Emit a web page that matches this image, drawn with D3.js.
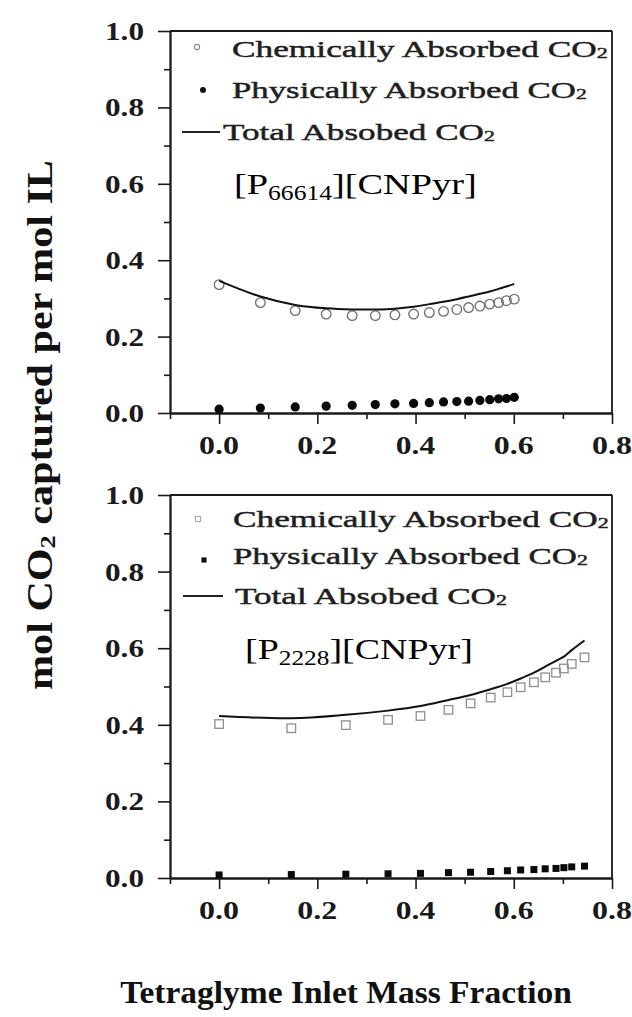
<!DOCTYPE html>
<html>
<head>
<meta charset="utf-8">
<script src="https://cdn.jsdelivr.net/npm/d3@7"></script>
<style>
  html, body { margin: 0; padding: 0; background: #fff; }
  svg { display: block; }
</style>
</head>
<body>
<script>
// ---- data: [P66614][CNPyr] ----
const topFraction = [0, 0.084, 0.155, 0.218, 0.271, 0.318, 0.358, 0.396, 0.428, 0.457, 0.484, 0.508, 0.531, 0.551, 0.569, 0.585, 0.601];
const topChemical = [0.336, 0.289, 0.268, 0.259, 0.255, 0.255, 0.257, 0.259, 0.263, 0.266, 0.271, 0.276, 0.280, 0.285, 0.289, 0.294, 0.298];
const topPhysical = [0.010, 0.013, 0.016, 0.018, 0.020, 0.022, 0.024, 0.025, 0.027, 0.029, 0.030, 0.031, 0.033, 0.035, 0.037, 0.038, 0.041];
const topTotal    = [0.346, 0.305, 0.283, 0.274, 0.271, 0.271, 0.273, 0.278, 0.285, 0.291, 0.298, 0.305, 0.312, 0.318, 0.325, 0.331, 0.338];

// ---- data: [P2228][CNPyr] ----
const botFraction = [0, 0.147, 0.258, 0.344, 0.410, 0.467, 0.512, 0.553, 0.587, 0.614, 0.641, 0.664, 0.686, 0.702, 0.718, 0.744];
const botChemical = [0.402, 0.391, 0.399, 0.413, 0.423, 0.439, 0.456, 0.471, 0.485, 0.498, 0.511, 0.524, 0.536, 0.547, 0.559, 0.576];
const botPhysical = [0.008, 0.009, 0.010, 0.011, 0.012, 0.014, 0.015, 0.017, 0.019, 0.021, 0.022, 0.024, 0.025, 0.027, 0.029, 0.031];
const botTotal    = [0.423, 0.417, 0.426, 0.437, 0.449, 0.465, 0.478, 0.493, 0.507, 0.521, 0.536, 0.552, 0.567, 0.578, 0.595, 0.620];

// ---- ticks and text ----
const xMajorTicks = [0, 0.2, 0.4, 0.6, 0.8];
const xMinorTicks = [-0.1, 0.1, 0.3, 0.5, 0.7];
const yMajorTicks = [0, 0.2, 0.4, 0.6, 0.8, 1.0];
const yMinorTicks = [0.1, 0.3, 0.5, 0.7, 0.9];
const legendLabels = ["Chemically Absorbed CO", "Physically Absorbed CO", "Total Absobed CO"];
const cationNames = ["66614", "2228"];
const xTitle = "Tetraglyme Inlet Mass Fraction";

const W = 632, H = 1017;
const SERIF = "'Liberation Serif', 'Times New Roman', serif";
const INK = "#1a1a1a";

const svg = d3.select("body").append("svg")
  .attr("width", W).attr("height", H)
  .attr("viewBox", `0 0 ${W} ${H}`);

const x = d3.scaleLinear().domain([-0.1, 0.8]).range([170, 612]);

// stretch a text element horizontally (in its own frame) about its anchor x
function fitWidth(sel, anchorX, target) {
  const w = sel.node().getBBox().width;
  if (!w) return;
  const s = target / w;
  sel.attr("transform", `translate(${anchorX},0) scale(${s},1) translate(${-anchorX},0)`);
}

const panels = [
  {
    top: 31, bottom: 413,
    fraction: topFraction, chemical: topChemical, physical: topPhysical, total: topTotal,
    marker: "circle", cation: cationNames[0],
    legend: {
      rows: [
        { base: 57, x: 232, w: 376, mark: [197, 47] },
        { base: 98, x: 232, w: 355, mark: [203, 90] },
        { base: 140, x: 223, w: 272, line: [182, 220, 132] }
      ],
      ion: { x: 234, base: 194, w: 243 }
    }
  },
  {
    top: 495, bottom: 878,
    fraction: botFraction, chemical: botChemical, physical: botPhysical, total: botTotal,
    marker: "square", cation: cationNames[1],
    legend: {
      rows: [
        { base: 527, x: 233, w: 376, mark: [198, 519] },
        { base: 564, x: 233, w: 355, mark: [204, 560] },
        { base: 604, x: 235, w: 272, line: [183, 223, 596] }
      ],
      ion: { x: 245, base: 659, w: 228 }
    }
  }
];

function drawPanel(p) {
  const y = d3.scaleLinear().domain([0, 1]).range([p.bottom, p.top]);
  const g = svg.append("g");

  // frame: top and right edges
  g.append("line")
    .attr("x1", x(-0.1)).attr("x2", x(0.8))
    .attr("y1", y(1)).attr("y2", y(1))
    .attr("stroke", INK).attr("stroke-width", 1.8);
  g.append("line")
    .attr("x1", x(0.8)).attr("x2", x(0.8))
    .attr("y1", y(1)).attr("y2", y(0))
    .attr("stroke", INK).attr("stroke-width", 1.8);

  // x axis: major + minor ticks
  const gx = g.append("g").attr("transform", `translate(0,${y(0)})`);
  gx.append("g").call(d3.axisBottom(x).tickValues(xMajorTicks).tickSize(11).tickSizeOuter(0).tickFormat(""));
  gx.append("g").call(d3.axisBottom(x).tickValues(xMinorTicks).tickSize(6).tickSizeOuter(0).tickFormat(""));

  // y axis: major + minor ticks
  const gy = g.append("g").attr("transform", `translate(${x(-0.1)},0)`);
  gy.append("g").call(d3.axisLeft(y).tickValues(yMajorTicks).tickSize(12).tickSizeOuter(0).tickFormat(""));
  gy.append("g").call(d3.axisLeft(y).tickValues(yMinorTicks).tickSize(6).tickSizeOuter(0).tickFormat(""));

  g.selectAll(".domain").attr("stroke", INK).attr("stroke-width", 1.8);
  g.selectAll(".tick line").attr("stroke", INK).attr("stroke-width", 1.6);

  // tick labels
  xMajorTicks.forEach(v => {
    const t = g.append("text")
      .attr("x", x(v)).attr("y", y(0) + 41)
      .attr("text-anchor", "middle")
      .attr("font-family", SERIF).attr("font-weight", "bold").attr("font-size", 25)
      .attr("fill", INK)
      .text(d3.format(".1f")(v));
    fitWidth(t, x(v), 40);
  });
  yMajorTicks.forEach(v => {
    const t = g.append("text")
      .attr("x", 144).attr("y", y(v) + 9)
      .attr("text-anchor", "end")
      .attr("font-family", SERIF).attr("font-weight", "bold").attr("font-size", 25)
      .attr("fill", INK)
      .text(d3.format(".1f")(v));
    fitWidth(t, 144, 39);
  });

  const chem = p.fraction.map((f, i) => [f, p.chemical[i]]);
  const phys = p.fraction.map((f, i) => [f, p.physical[i]]);
  const total = p.fraction.map((f, i) => [f, p.total[i]]);

  // markers
  if (p.marker === "circle") {
    g.selectAll(".chem").data(chem).join("circle")
      .attr("cx", d => x(d[0])).attr("cy", d => y(d[1])).attr("r", 4.8)
      .attr("fill", "none").attr("stroke", "#6e6e6e").attr("stroke-width", 1.3);
    g.selectAll(".phys").data(phys).join("circle")
      .attr("cx", d => x(d[0])).attr("cy", d => y(d[1])).attr("r", 4.6)
      .attr("fill", "#0a0a0a");
  } else {
    const s1 = 8.5, s2 = 7;
    g.selectAll(".chem").data(chem).join("rect")
      .attr("x", d => x(d[0]) - s1 / 2).attr("y", d => y(d[1]) - s1 / 2)
      .attr("width", s1).attr("height", s1)
      .attr("fill", "none").attr("stroke", "#8e8e8e").attr("stroke-width", 1.3);
    g.selectAll(".phys").data(phys).join("rect")
      .attr("x", d => x(d[0]) - s2 / 2).attr("y", d => y(d[1]) - s2 / 2)
      .attr("width", s2).attr("height", s2)
      .attr("fill", "#0a0a0a");
  }

  // total absorbed curve
  g.append("path")
    .datum(total)
    .attr("d", d3.line().x(d => x(d[0])).y(d => y(d[1])).curve(d3.curveCatmullRom))
    .attr("fill", "none").attr("stroke", "#111").attr("stroke-width", 2);

  // legend
  const L = p.legend;
  L.rows.forEach((r, i) => {
    const t = g.append("text")
      .attr("x", r.x).attr("y", r.base)
      .attr("font-family", SERIF).attr("font-size", 24)
      .attr("fill", "#1e1e1e")
      .attr("stroke", "#1e1e1e").attr("stroke-width", 0.45);
    t.append("tspan").text(legendLabels[i]);
    t.append("tspan").attr("font-size", 15).attr("dy", 1).text("2");
    fitWidth(t, r.x, r.w);
  });
  const [m1, m2, m3] = L.rows;
  if (p.marker === "circle") {
    g.append("circle").attr("cx", m1.mark[0]).attr("cy", m1.mark[1]).attr("r", 2.6)
      .attr("fill", "none").attr("stroke", "#8a8a8a").attr("stroke-width", 1.1);
    g.append("circle").attr("cx", m2.mark[0]).attr("cy", m2.mark[1]).attr("r", 3)
      .attr("fill", "#111");
  } else {
    g.append("rect").attr("x", m1.mark[0] - 2.6).attr("y", m1.mark[1] - 2.6)
      .attr("width", 5.2).attr("height", 5.2)
      .attr("fill", "none").attr("stroke", "#aaa").attr("stroke-width", 1.1);
    g.append("rect").attr("x", m2.mark[0] - 2.6).attr("y", m2.mark[1] - 2.6)
      .attr("width", 5.2).attr("height", 5.2).attr("fill", "#111");
  }
  g.append("line")
    .attr("x1", m3.line[0]).attr("x2", m3.line[1])
    .attr("y1", m3.line[2]).attr("y2", m3.line[2])
    .attr("stroke", "#222").attr("stroke-width", 1.8);

  // ionic liquid label
  const ion = g.append("text")
    .attr("x", L.ion.x).attr("y", L.ion.base)
    .attr("font-family", SERIF).attr("font-size", 30)
    .attr("fill", "#000");
  ion.append("tspan").text("[P");
  ion.append("tspan").attr("font-size", 20).attr("dy", 6).text(p.cation);
  ion.append("tspan").attr("dy", -6).text("][CNPyr]");
  fitWidth(ion, L.ion.x, L.ion.w);
}

panels.forEach(drawPanel);

// axis titles
const yt = svg.append("g").attr("transform", "translate(52,425) rotate(-90)")
  .append("text")
  .attr("x", 0).attr("y", 0)
  .attr("text-anchor", "middle")
  .attr("font-family", SERIF).attr("font-weight", "bold").attr("font-size", 35)
  .attr("fill", "#111");
yt.append("tspan").text("mol CO");
yt.append("tspan").attr("font-size", 22).attr("dy", 3).text("2");
yt.append("tspan").attr("dy", -3).text(" captured per mol IL");
fitWidth(yt, 0, 530);

const xt = svg.append("text")
  .attr("x", 346).attr("y", 1003)
  .attr("text-anchor", "middle")
  .attr("font-family", SERIF).attr("font-weight", "bold").attr("font-size", 32)
  .attr("fill", "#111")
  .text(xTitle);
fitWidth(xt, 346, 452);
</script>
</body>
</html>
